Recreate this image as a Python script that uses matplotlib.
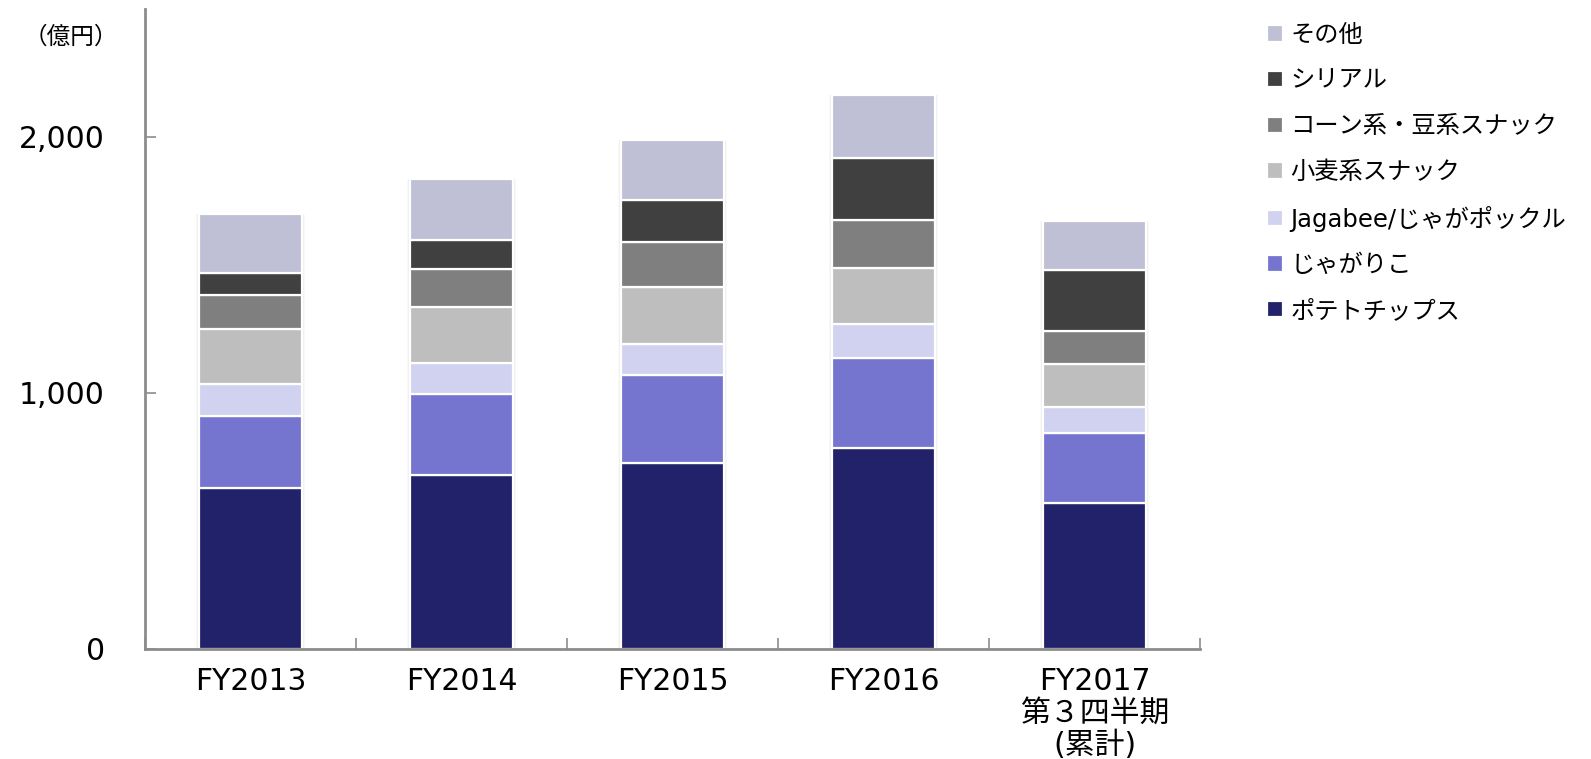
import numpy as np
import matplotlib
matplotlib.use('Agg')
import matplotlib.pyplot as plt

plt.rcParams['font.family'] = ['DejaVu Sans', 'Noto Sans CJK JP']

categories = ['FY2013', 'FY2014', 'FY2015', 'FY2016', 'FY2017\n第３四半期\n(累計)']

# values in 億円, bottom to top
potato_chips = [628, 680, 728, 784, 569]
jagariko = [283, 317, 342, 352, 274]
jagabee = [125, 121, 123, 132, 101]
wheat_snack = [214, 218, 220, 221, 168]
corn_bean_snack = [133, 147, 176, 187, 131]
cereal = [85, 115, 165, 241, 237]
other = [230, 239, 234, 247, 193]

series = [
    ('ポテトチップス', potato_chips, '#22226a'),
    ('じゃがりこ', jagariko, '#7575cf'),
    ('Jagabee/じゃがポックル', jagabee, '#d1d2ef'),
    ('小麦系スナック', wheat_snack, '#bebebe'),
    ('コーン系・豆系スナック', corn_bean_snack, '#7f7f7f'),
    ('シリアル', cereal, '#404040'),
    ('その他', other, '#bfc0d5'),
]

fig = plt.figure(figsize=(15.91, 7.59), dpi=100)
ax = fig.add_axes([145 / 1591, 1 - 649 / 759, (1200 - 145) / 1591, 640 / 759])

x = np.arange(len(categories))
width = 0.49
totals = np.sum([s[1] for s in series], axis=0)

# soft shadow behind each bar
for grow, alpha in [(0.03, 0.025), (0.02, 0.035), (0.01, 0.05)]:
    ax.bar(x, totals, width=width + grow, color='black', alpha=alpha,
           linewidth=0, zorder=1)

bottom = np.zeros(len(categories))
handles = []
for label, vals, color in series:
    b = ax.bar(x, vals, width=width, bottom=bottom, color=color,
               edgecolor='white', linewidth=1.6, label=label, zorder=2)
    handles.append(b)
    bottom += np.array(vals)

ax.set_xlim(-0.5, len(categories) - 0.5)
ax.set_ylim(0, 2500)

for side in ['top', 'right']:
    ax.spines[side].set_visible(False)
for side in ['left', 'bottom']:
    ax.spines[side].set_color('#8c8c8c')
    ax.spines[side].set_linewidth(2)

ax.set_yticks([0, 1000, 2000])
ax.set_yticklabels(['0', '1,000', '2,000'])
ax.tick_params(axis='y', direction='in', length=8, width=1.2, color='#8c8c8c',
               labelsize=21.5, pad=29)

ax.set_xticks(x)
ax.set_xticklabels(categories, fontsize=21.5, linespacing=1.12)
ax.tick_params(axis='x', which='major', length=0, pad=13)
ax.set_xticks(np.arange(len(categories) + 1) - 0.5, minor=True)
ax.tick_params(axis='x', which='minor', direction='in', length=8, width=1.2,
               color='#8c8c8c')

fig.text(71 / 1591, 1 - 37 / 759, '（億円）', fontsize=17, ha='center', va='center')

leg = fig.legend(handles[::-1], [s[0] for s in series][::-1],
                 loc='upper left', bbox_to_anchor=(1267 / 1591, 1 - 23 / 759),
                 frameon=False, fontsize=17.5, handlelength=0.66, handleheight=0.66,
                 handletextpad=0.3, labelspacing=0.89, borderpad=0, borderaxespad=0)

fig.savefig('out.png', dpi=100)
